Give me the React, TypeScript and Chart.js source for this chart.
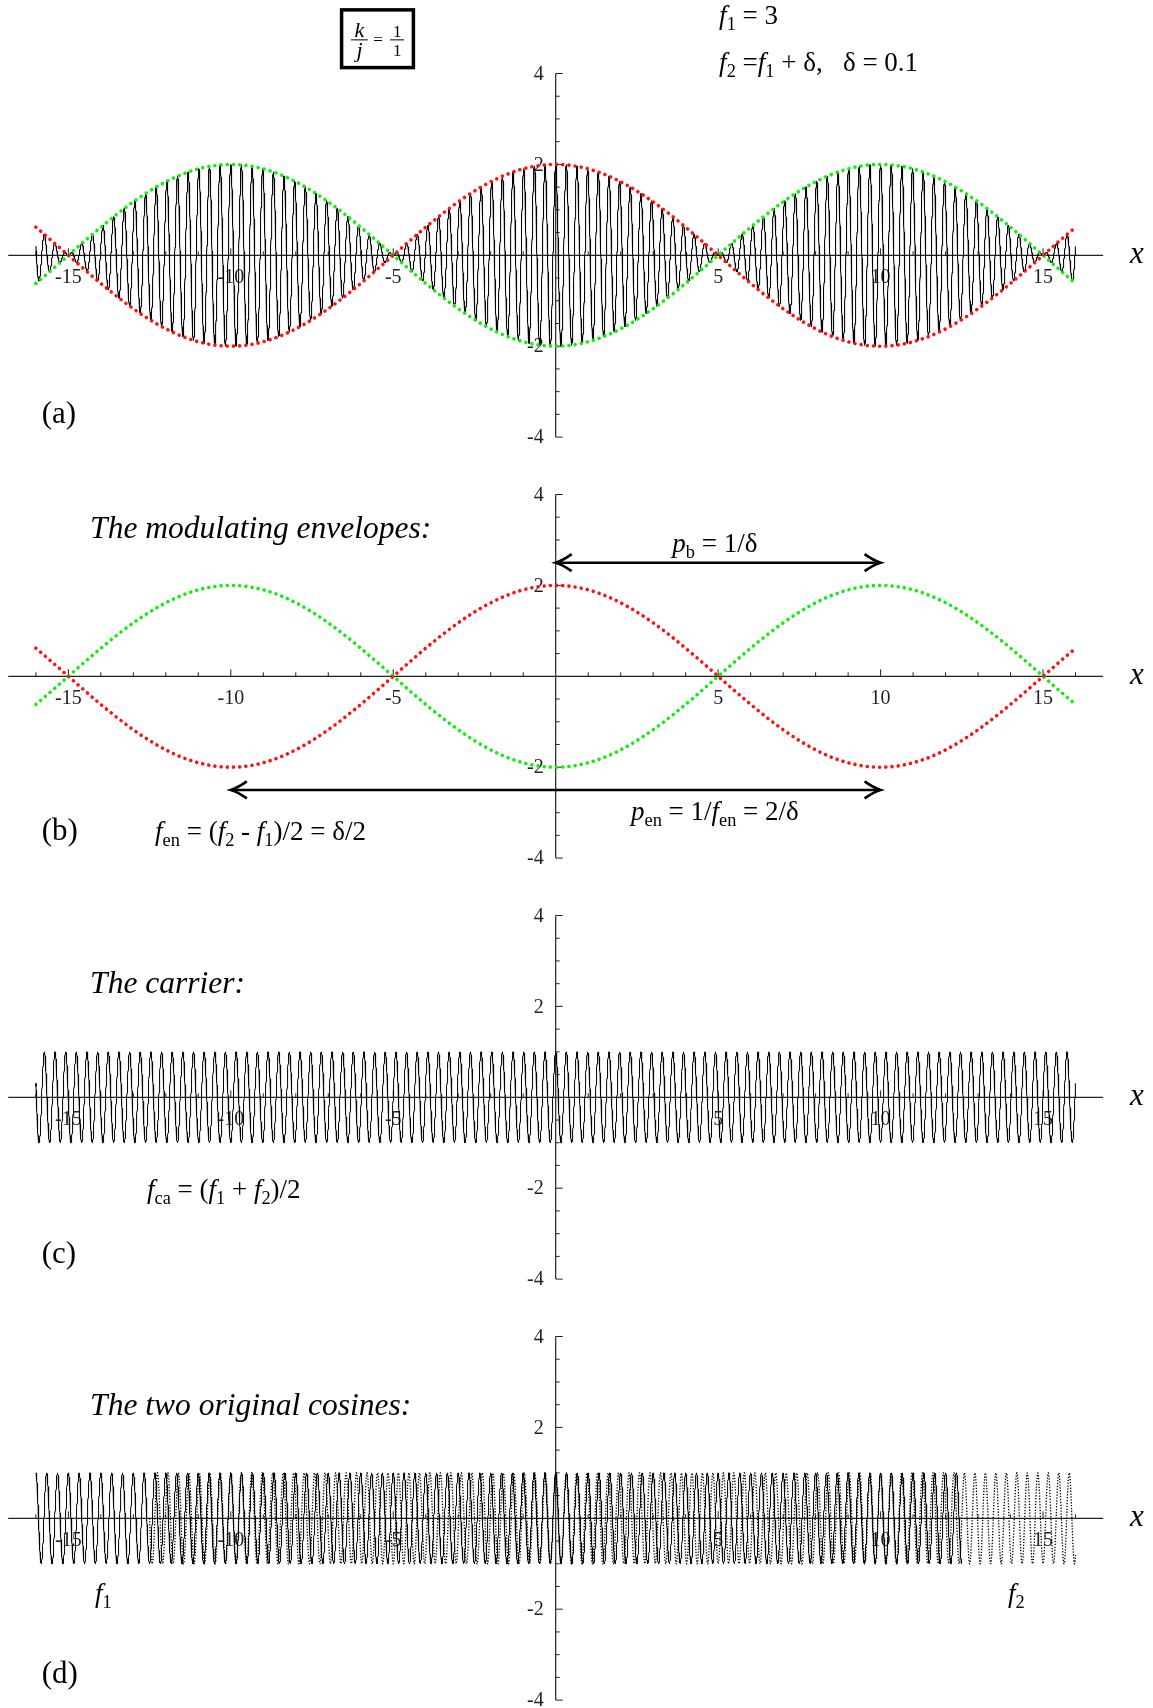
import React, { useEffect, useRef } from 'react';
import { Chart, registerables } from 'chart.js';

Chart.register(...registerables);

// ---------------- data ----------------
const F1 = 3; // "f1 = 3"
const DELTA = 0.1; // "δ = 0.1"
const F2 = F1 + DELTA; // "f2 = f1 + δ"
const SUM_RANGE = [-16, 16];
const ENV_RANGE = [-16, 16];
const CARRIER_RANGE = [-16, 16];
const COS1_RANGE = [-16, 12.5];
const COS2_RANGE = [-12.5, 16];
const X_AXIS_SPAN = [-16.85, 16.85];
const Y_AXIS_SPAN = [-4, 4];
const X_TICK_VALUES = [-15, -10, -5, 5, 10, 15];
const X_TICK_LABELS = ['-15', '-10', '-5', '5', '10', '15'];
const X_MINOR_RANGE = [-16, 16];
const Y_TICK_VALUES = [-4, -2, 2, 4];
const Y_TICK_LABELS = ['-4', '-2', '2', '4'];
const Y_MINOR_STEP = 0.5;
const PANEL_LABELS = ['(a)', '(b)', '(c)', '(d)'];
const HEADINGS = ['', 'The modulating envelopes:', 'The carrier:', 'The two original cosines:'];
const ARROW_PB = [0, 10, 2.5]; // x from, x to, y
const ARROW_PEN = [-10, 10, -2.5];

// ---------------- layout ----------------
const W = 1153;
const H = 1708;
const X0_PX = 555.7;
const X_UNIT = 32.49;
const Y_UNIT = 45.45;
const CENTERS = [255.3, 676.3, 1097.3, 1518.3];
const FONT = '"Liberation Serif", "Times New Roman", serif';

type Run = { t: string; it?: boolean; sub?: boolean };

function sample(range: number[], fn: (x: number) => number, step = 0.004) {
  const pts: { x: number; y: number }[] = [];
  const n = Math.round((range[1] - range[0]) / step);
  for (let i = 0; i <= n; i++) {
    const x = range[0] + (i * (range[1] - range[0])) / n;
    pts.push({ x, y: fn(x) });
  }
  return pts;
}

const cos1 = (x: number) => Math.cos(2 * Math.PI * F1 * x);
const cos2 = (x: number) => Math.cos(2 * Math.PI * F2 * x);
const sum = (x: number) => cos1(x) + cos2(x);
const envUp = (x: number) => 2 * Math.cos(Math.PI * (F2 - F1) * x);
const envDown = (x: number) => -envUp(x);
const carrier = (x: number) => Math.cos(Math.PI * (F1 + F2) * x);

function drawRuns(ctx: CanvasRenderingContext2D, runs: Run[], x: number, y: number, size: number, align: 'left' | 'center' = 'left') {
  const fontFor = (r: Run) => `${r.it ? 'italic ' : ''}${r.sub ? size * 0.68 : size}px ${FONT}`;
  let total = 0;
  const widths = runs.map((r) => {
    ctx.font = fontFor(r);
    const w = ctx.measureText(r.t).width;
    total += w;
    return w;
  });
  let cx = align === 'center' ? x - total / 2 : x;
  ctx.textAlign = 'left';
  ctx.textBaseline = 'alphabetic';
  runs.forEach((r, i) => {
    ctx.font = fontFor(r);
    ctx.fillText(r.t, cx, r.sub ? y + size * 0.22 : y);
    cx += widths[i];
  });
}

const lineDs = (data: any[], color: string, width: number, order: number, extra: any = {}) => ({
  data,
  showLine: true,
  borderColor: color,
  backgroundColor: color,
  borderWidth: width,
  pointRadius: 0,
  pointHoverRadius: 0,
  fill: false,
  tension: 0,
  order,
  borderJoinStyle: 'round',
  ...extra,
});

const dotted = (data: any[], color: string) =>
  lineDs(data, color, 3.6, 0, { borderDash: [0.01, 6.2], borderCapStyle: 'round' });

function buildDatasets(i: number) {
  if (i === 0) {
    return [
      dotted(sample(ENV_RANGE, envUp), '#ff1010'),
      dotted(sample(ENV_RANGE, envDown), '#10ee10'),
      lineDs(sample(SUM_RANGE, sum), '#000', 1.05, 2),
    ];
  }
  if (i === 1) {
    return [dotted(sample(ENV_RANGE, envUp), '#ff1010'), dotted(sample(ENV_RANGE, envDown), '#10ee10')];
  }
  if (i === 2) {
    return [lineDs(sample(CARRIER_RANGE, carrier), '#000', 1.0, 1)];
  }
  return [
    lineDs(sample(COS1_RANGE, cos1), '#000', 1.0, 1),
    lineDs(sample(COS2_RANGE, cos2), '#000', 1.3, 2, { borderDash: [1.3, 1.6], borderJoinStyle: 'miter' }),
  ];
}

function drawArrow(ctx: CanvasRenderingContext2D, x1: number, x2: number, y: number) {
  const L = 16;
  const Hh = 8.5;
  ctx.save();
  ctx.strokeStyle = '#000';
  ctx.lineWidth = 2.6;
  ctx.lineCap = 'butt';
  ctx.beginPath();
  ctx.moveTo(x1 + 1, y);
  ctx.lineTo(x2 - 1, y);
  ctx.stroke();
  ctx.lineJoin = 'miter';
  [
    [x1, 1],
    [x2, -1],
  ].forEach(([tx, dir]) => {
    ctx.beginPath();
    ctx.moveTo(tx + dir * L, y - Hh);
    ctx.quadraticCurveTo(tx + dir * L * 0.45, y - Hh * 0.25, tx, y);
    ctx.quadraticCurveTo(tx + dir * L * 0.45, y + Hh * 0.25, tx + dir * L, y + Hh);
    ctx.stroke();
  });
  ctx.restore();
}

function makePlugin(idx: number) {
  return {
    id: 'beatAxes' + idx,
    beforeDatasetsDraw(chart: any) {
      const ctx: CanvasRenderingContext2D = chart.ctx;
      const xs = chart.scales.x;
      const ys = chart.scales.y;
      const X = (v: number) => xs.getPixelForValue(v);
      const Y = (v: number) => ys.getPixelForValue(v);
      const y0 = Y(0);
      const x0 = X(0);
      ctx.save();
      ctx.strokeStyle = '#222';
      ctx.lineWidth = 1.2;
      // x axis line
      ctx.beginPath();
      ctx.moveTo(X(X_AXIS_SPAN[0]), y0);
      ctx.lineTo(X(X_AXIS_SPAN[1]), y0);
      ctx.stroke();
      // x ticks
      ctx.lineWidth = 1;
      for (let k = X_MINOR_RANGE[0]; k <= X_MINOR_RANGE[1]; k++) {
        if (k === 0) continue;
        const len = X_TICK_VALUES.includes(k) ? 7 : 4;
        ctx.beginPath();
        ctx.moveTo(X(k), y0);
        ctx.lineTo(X(k), y0 - len);
        ctx.stroke();
      }
      // y axis line
      ctx.lineWidth = 1.2;
      ctx.beginPath();
      ctx.moveTo(x0, Y(Y_AXIS_SPAN[0]));
      ctx.lineTo(x0, Y(Y_AXIS_SPAN[1]));
      ctx.stroke();
      ctx.lineWidth = 1;
      for (let v = Y_AXIS_SPAN[0]; v <= Y_AXIS_SPAN[1] + 1e-9; v += Y_MINOR_STEP) {
        if (Math.abs(v) < 1e-9) continue;
        const len = Y_TICK_VALUES.includes(v) ? 7 : 4;
        ctx.beginPath();
        ctx.moveTo(x0, Y(v));
        ctx.lineTo(x0 + len, Y(v));
        ctx.stroke();
      }
      // tick labels
      ctx.fillStyle = '#222';
      ctx.font = `20px ${FONT}`;
      ctx.textAlign = 'center';
      ctx.textBaseline = 'middle';
      X_TICK_VALUES.forEach((v, i) => ctx.fillText(X_TICK_LABELS[i], X(v), y0 + 22));
      ctx.textAlign = 'right';
      Y_TICK_VALUES.forEach((v, i) => ctx.fillText(Y_TICK_LABELS[i], x0 - 12, Y(v) + 1));
      ctx.restore();
    },
    afterDatasetsDraw(chart: any) {
      const ctx: CanvasRenderingContext2D = chart.ctx;
      const xs = chart.scales.x;
      const ys = chart.scales.y;
      const X = (v: number) => xs.getPixelForValue(v);
      const Y = (v: number) => ys.getPixelForValue(v);
      ctx.save();
      ctx.fillStyle = '#000';
      // axis name
      ctx.font = `italic 31px ${FONT}`;
      ctx.textAlign = 'left';
      ctx.textBaseline = 'alphabetic';
      ctx.fillText('x', X(17.68), Y(-0.17));
      // panel label
      const labY = [-3.69, -3.6, -3.65, -3.62][idx];
      ctx.font = `31px ${FONT}`;
      ctx.fillText(PANEL_LABELS[idx], X(-15.82), Y(labY));
      // heading
      const headY = [0, 3.04, 2.29, 2.27][idx];
      if (HEADINGS[idx]) {
        ctx.font = `italic 31.5px ${FONT}`;
        ctx.fillText(HEADINGS[idx], X(-14.33), Y(headY));
      }
      const M = 27;
      if (idx === 0) {
        // k/j = 1/1 box
        ctx.strokeStyle = '#000';
        ctx.lineWidth = 3.5;
        ctx.strokeRect(X(-6.59), Y(5.4), X(-4.38) - X(-6.59), Y(4.13) - Y(5.4));
        ctx.lineWidth = 1;
        ctx.beginPath();
        ctx.moveTo(X(-6.3), Y(4.74));
        ctx.lineTo(X(-5.78), Y(4.74));
        ctx.moveTo(X(-5.1), Y(4.74));
        ctx.lineTo(X(-4.67), Y(4.74));
        ctx.stroke();
        ctx.textAlign = 'center';
        ctx.font = `italic 22px ${FONT}`;
        ctx.fillText('k', X(-6.04), Y(4.8));
        ctx.fillText('j', X(-6.04), Y(4.36));
        ctx.font = `17px ${FONT}`;
        ctx.fillText('=', X(-5.47), Y(4.63));
        ctx.fillText('1', X(-4.88), Y(4.8));
        ctx.fillText('1', X(-4.88), Y(4.39));
        ctx.textAlign = 'left';
        drawRuns(ctx, [{ t: 'f', it: true }, { t: '1', sub: true }, { t: ' = 3' }], X(5.03), Y(5.09), M);
        drawRuns(
          ctx,
          [{ t: 'f', it: true }, { t: '2', sub: true }, { t: ' =' }, { t: 'f', it: true }, { t: '1', sub: true }, { t: ' + δ,   δ = 0.1' }],
          X(5.03),
          Y(4.05),
          M
        );
      }
      if (idx === 1) {
        drawArrow(ctx, X(ARROW_PB[0]), X(ARROW_PB[1]), Y(ARROW_PB[2]));
        drawArrow(ctx, X(ARROW_PEN[0]), X(ARROW_PEN[1]), Y(ARROW_PEN[2]));
        drawRuns(ctx, [{ t: 'p', it: true }, { t: 'b', sub: true }, { t: ' = 1/δ' }], X(4.9), Y(2.74), M, 'center');
        drawRuns(
          ctx,
          [{ t: 'p', it: true }, { t: 'en', sub: true }, { t: ' = 1/' }, { t: 'f', it: true }, { t: 'en', sub: true }, { t: ' = 2/δ' }],
          X(4.9),
          Y(-3.16),
          M,
          'center'
        );
        drawRuns(
          ctx,
          [
            { t: 'f', it: true },
            { t: 'en', sub: true },
            { t: ' = (' },
            { t: 'f', it: true },
            { t: '2', sub: true },
            { t: ' - ' },
            { t: 'f', it: true },
            { t: '1', sub: true },
            { t: ')/2 = δ/2' },
          ],
          X(-12.33),
          Y(-3.6),
          M
        );
      }
      if (idx === 2) {
        drawRuns(
          ctx,
          [
            { t: 'f', it: true },
            { t: 'ca', sub: true },
            { t: ' = (' },
            { t: 'f', it: true },
            { t: '1', sub: true },
            { t: ' + ' },
            { t: 'f', it: true },
            { t: '2', sub: true },
            { t: ')/2' },
          ],
          X(-12.58),
          Y(-2.22),
          M
        );
      }
      if (idx === 3) {
        drawRuns(ctx, [{ t: 'f', it: true }, { t: '1', sub: true }], X(-14.18), Y(-1.84), M);
        drawRuns(ctx, [{ t: 'f', it: true }, { t: '2', sub: true }], X(13.92), Y(-1.84), M);
      }
      ctx.restore();
    },
  };
}

function Panel({ idx }: { idx: number }) {
  const ref = useRef<HTMLCanvasElement | null>(null);
  useEffect(() => {
    if (!ref.current) return;
    const c = CENTERS[idx];
    const chart = new Chart(ref.current, {
      type: 'scatter',
      data: { datasets: buildDatasets(idx) as any },
      options: {
        animation: false,
        responsive: false,
        maintainAspectRatio: false,
        devicePixelRatio: 1,
        events: [],
        parsing: false,
        normalized: true,
        layout: { padding: 0 },
        plugins: { legend: { display: false }, tooltip: { enabled: false }, title: { display: false } },
        scales: {
          x: { type: 'linear', display: false, min: -X0_PX / X_UNIT, max: (W - X0_PX) / X_UNIT },
          y: { type: 'linear', display: false, min: (c - H) / Y_UNIT, max: c / Y_UNIT },
        },
      } as any,
      plugins: [makePlugin(idx)],
    });
    return () => chart.destroy();
  }, [idx]);
  return (
    <canvas
      ref={ref}
      width={W}
      height={H}
      style={{ position: 'absolute', left: 0, top: 0, width: W, height: H }}
    />
  );
}

export default function App() {
  return (
    <div style={{ position: 'absolute', left: 0, top: 0, width: W, height: H, background: '#fff', overflow: 'hidden' }}>
      {[0, 1, 2, 3].map((i) => (
        <Panel key={i} idx={i} />
      ))}
    </div>
  );
}
